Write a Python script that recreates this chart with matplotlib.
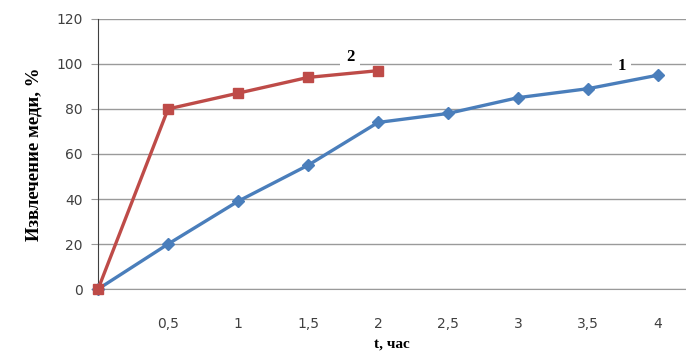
import matplotlib.pyplot as plt

t = [0, 0.5, 1, 1.5, 2, 2.5, 3, 3.5, 4]
t_labels = ['', '0,5', '1', '1,5', '2', '2,5', '3', '3,5', '4']
curve1 = [0, 20, 39, 55, 74, 78, 85, 89, 95]
t2 = [0, 0.5, 1, 1.5, 2]
curve2 = [0, 80, 87, 94, 97]

fig = plt.figure(figsize=(6.86, 3.56), dpi=100)
ax = fig.add_axes([0.143, 0.188, 0.857, 0.759])

ax.plot(t, curve1, color='#4a7ebb', lw=2.4, marker='D', ms=6.5, zorder=3, clip_on=False)
ax.plot(t2, curve2, color='#be4b48', lw=2.4, marker='s', ms=7, zorder=4, clip_on=False)

ax.set_xlim(0, 4.2)
ax.set_ylim(0, 120)
ax.set_yticks(range(0, 121, 20))
ax.set_xticks(t)
ax.set_xticklabels(t_labels)
ax.grid(axis='y', color='#9a9a9a', lw=1)
ax.set_axisbelow(True)
for s in ['top', 'right']:
    ax.spines[s].set_visible(False)
ax.spines['left'].set_color('#404040')
ax.spines['bottom'].set_color('#9a9a9a')
ax.tick_params(axis='y', length=5, color='#9a9a9a', labelsize=10, labelcolor='#404040', pad=6)
ax.tick_params(axis='x', length=0, labelsize=10, labelcolor='#404040', pad=20)

serif = dict(family='Liberation Serif', weight='bold')
ax.set_ylabel('Извлечение меди, %', fontsize=13.5, labelpad=10, **serif)
ax.set_xlabel('t, час', fontsize=11, labelpad=5, **serif)

# curve numbers sit on white boxes that break the gridline, under the lines
box = dict(facecolor='white', edgecolor='none', pad=4)
ax.text(1.8, 103, '2', fontsize=12, ha='center', va='center', bbox=box, zorder=2.5, **serif)
ax.text(3.74, 99, '1', fontsize=12, ha='center', va='center', bbox=box, zorder=2.5, **serif)

fig.savefig('out.png', dpi=100)
